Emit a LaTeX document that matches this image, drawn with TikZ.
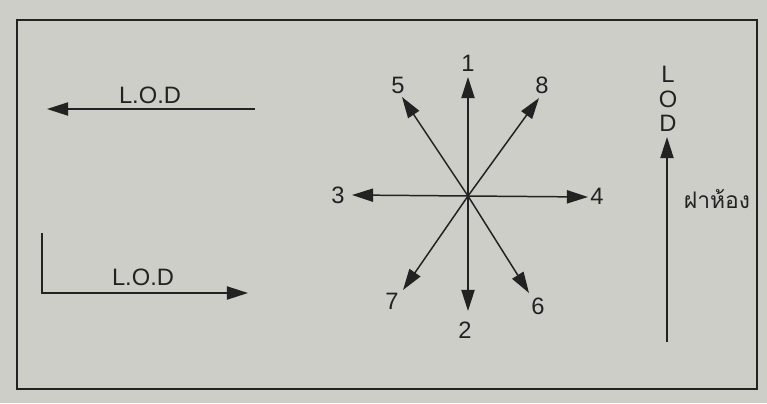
\documentclass[tikz,border=0pt]{standalone}
\usepackage{fontspec}
\setmainfont{Liberation Sans}
\newfontfamily\thaifont[Script=Thai]{Loma}
\usetikzlibrary{arrows.meta}
\definecolor{cPaper}{RGB}{206,206,200}
\definecolor{cInk}{RGB}{34,34,34}
\tikzset{
  ar/.style={-{Triangle[length=12pt, width=7.5pt]}, line width=0.85pt, draw=cInk},
  num/.style={font=\fontsize{13.5}{15}\selectfont, text=cInk, inner sep=1pt},
  wallb/.style={font=\thaifont\fontsize{13}{15}\selectfont, text=cInk, inner sep=1pt},
}

\begin{document}
\begin{tikzpicture}[x=0.02cm, y=-0.02cm]
    \fill[cPaper] (0,0) rectangle (767,403);
    \useasboundingbox (0,0) rectangle (767,403);
    \draw[cInk, line width=1.3pt] (17,20) rectangle (757,389);

    % --- left: line of dance ---
    \coordinate (la)  at (255,109);
    \coordinate (lat) at (47,109);
    \node[num] (lal) at (150,95) {L.O.D};
    \draw[ar] (la) -- (lat);

    \coordinate (lb)  at (42,233);
    \coordinate (lbt) at (248,293);
    \node[num] (lbl) at (143,277) {L.O.D};
    \draw[ar] (lb) |- (lbt);

    % --- star of directions ---
    \coordinate (c) at (468,196);
    \coordinate (t1) at (468,77);
    \coordinate (t2) at (468,311);
    \coordinate (t3) at (352,195);
    \coordinate (t4) at (588,197);
    \coordinate (t5) at (402,97);
    \coordinate (t6) at (529,293);
    \coordinate (t7) at (403,290);
    \coordinate (t8) at (539,98);
    \foreach \i in {1,...,8} {
      \draw[ar] (c) -- (t\i);
    }
    \node[num] (n1) at (468,63)  {1};
    \node[num] (n2) at (465,330) {2};
    \node[num] (n3) at (338,195) {3};
    \node[num] (n4) at (597,196) {4};
    \node[num] (n5) at (398,85)  {5};
    \node[num] (n6) at (538,306) {6};
    \node[num] (n7) at (392,301) {7};
    \node[num] (n8) at (542,85)  {8};

    % --- right: wall ---
    \coordinate (w)  at (667,342);
    \coordinate (wt) at (667,137);
    \draw[ar] (w) -- (wt);
    \node[num] (wl) at (668,74)  {L};
    \node[num] (wo) at (668,99)  {O};
    \node[num] (wd) at (668,123) {D};
    \node[wallb] (wall) at (717,199) {ฝาห้อง};
  \end{tikzpicture}
\end{document}
